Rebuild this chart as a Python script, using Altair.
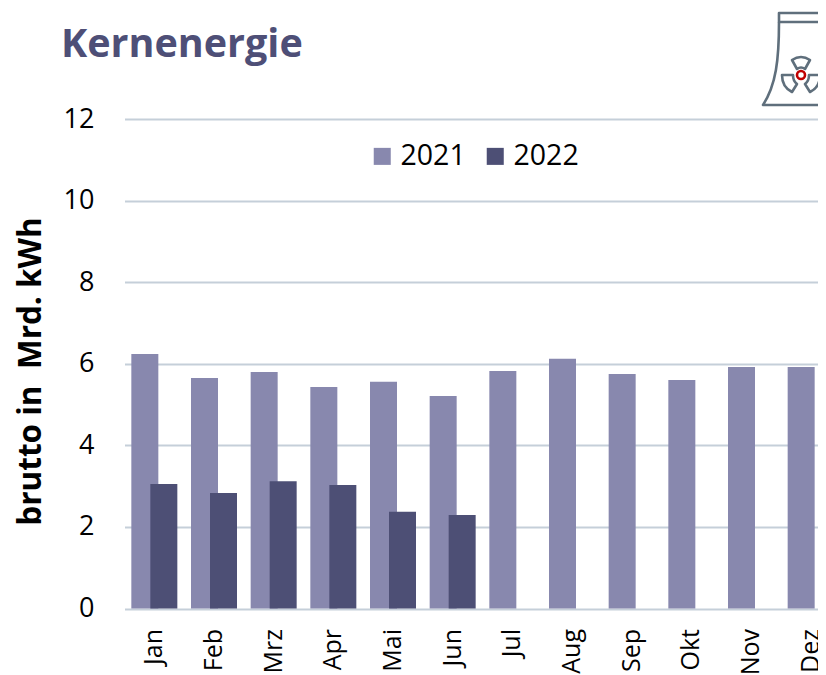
import altair as alt
import pandas as pd
import base64

months = ["Jan", "Feb", "Mrz", "Apr", "Mai", "Jun", "Jul", "Aug", "Sep", "Okt", "Nov", "Dez"]
v2021 = [6.24, 5.65, 5.80, 5.43, 5.56, 5.21, 5.82, 6.12, 5.75, 5.60, 5.92, 5.92]
v2022 = [3.05, 2.83, 3.12, 3.03, 2.37, 2.29]
y_ticks = [0, 2, 4, 6, 8, 10, 12]
colors = ["#8888AE", "#4D4F75"]
FONT = "Open Sans"

df21 = pd.DataFrame({"Monat": months, "Wert": v2021, "Jahr": "2021"})
df22 = pd.DataFrame({"Monat": months[:len(v2022)], "Wert": v2022, "Jahr": "2022"})

x = alt.X("Monat:N", sort=months, scale=alt.Scale(domain=months, range=[-0.5, 715.5], paddingInner=0, paddingOuter=0),
          axis=alt.Axis(title=None, labelAngle=270, labelFontSize=25, labelFont=FONT, labelColor="#000000",
                        labelPadding=20, ticks=False, domain=False, grid=False, labelBaseline="middle",
                        labelAlign="right"))
y = alt.Y("Wert:Q", scale=alt.Scale(domain=[0, 12], nice=False),
          axis=alt.Axis(values=y_ticks, title="brutto in \u00a0Mrd. kWh", titleFont=FONT, titleFontSize=31.5,
                        titleFontWeight="bold", titleColor="#000000", titleX=-78, titleY=252, titleAngle=270,
                        titleAlign="center", labelFontSize=27, labelFont=FONT, labelColor="#000000",
                        labelPadding=31, ticks=False, domain=False, grid=True, gridColor="#C5CFD9", gridWidth=2))
color = alt.Color("Jahr:N", scale=alt.Scale(domain=["2021", "2022"], range=colors),
                  legend=alt.Legend(title=None, orient="none", legendX=243, legendY=23, direction="horizontal",
                                    symbolType="square", symbolSize=290, symbolStrokeWidth=0, labelFontSize=28.5,
                                    labelFont=FONT, labelColor="#000000", columnPadding=15, labelOffset=4,
                                    symbolOpacity=1))

b21 = alt.Chart(df21).mark_bar(width=27, xOffset=-9.5).encode(x=x, y=y, color=color)
b22 = alt.Chart(df22).mark_bar(width=27, xOffset=9.5).encode(x=x, y=y, color=color)

icon_svg = """<svg xmlns='http://www.w3.org/2000/svg' width='86' height='120' viewBox='0 0 86 120'>
<g fill='none' stroke='#5F6F7C' stroke-width='2.6' stroke-linejoin='round'>
<path d='M39 13 H82 V22 H39 Z'/>
<path d='M39 22 C39 60 36 85 23 105 H86'/>
<path d='M82 22 C82 40 84 50 86 60'/>
<path d='M52 60 Q61 54 70 60 L65 69 Q61 66 57 69 Z'/>
<path d='M42 75 L53 75 Q53 81 57 84 L52 92 Q42 87 42 75 Z'/>
<path d='M80 75 L69 75 Q69 81 65 84 L70 92 Q80 87 80 75 Z'/>
</g>
<circle cx='61' cy='75' r='4' fill='none' stroke='#C00000' stroke-width='2.6'/>
</svg>"""
icon_url = "data:image/svg+xml;base64," + base64.b64encode(icon_svg.encode()).decode()
icon = alt.Chart(pd.DataFrame({"u": [icon_url]})).mark_image(width=86, height=120, align="left", baseline="top").encode(
    url="u:N", x=alt.value(615), y=alt.value(-119))

chart = alt.layer(b21, b22, icon).properties(
    width=693, height=489.5,
    padding={"left": 117, "top": 111, "right": 0, "bottom": 66},
    autosize=alt.AutoSizeParams(type="none"),
    title=alt.TitleParams("Kernenergie", anchor="start", frame="group", dx=-64, offset=-96, baseline="alphabetic",
                          font=FONT, fontSize=39.5, fontWeight="bold", color="#4E4F77"),
).configure_view(stroke=None)

chart.save("out.html", embed_options={"renderer": "svg", "actions": False})
